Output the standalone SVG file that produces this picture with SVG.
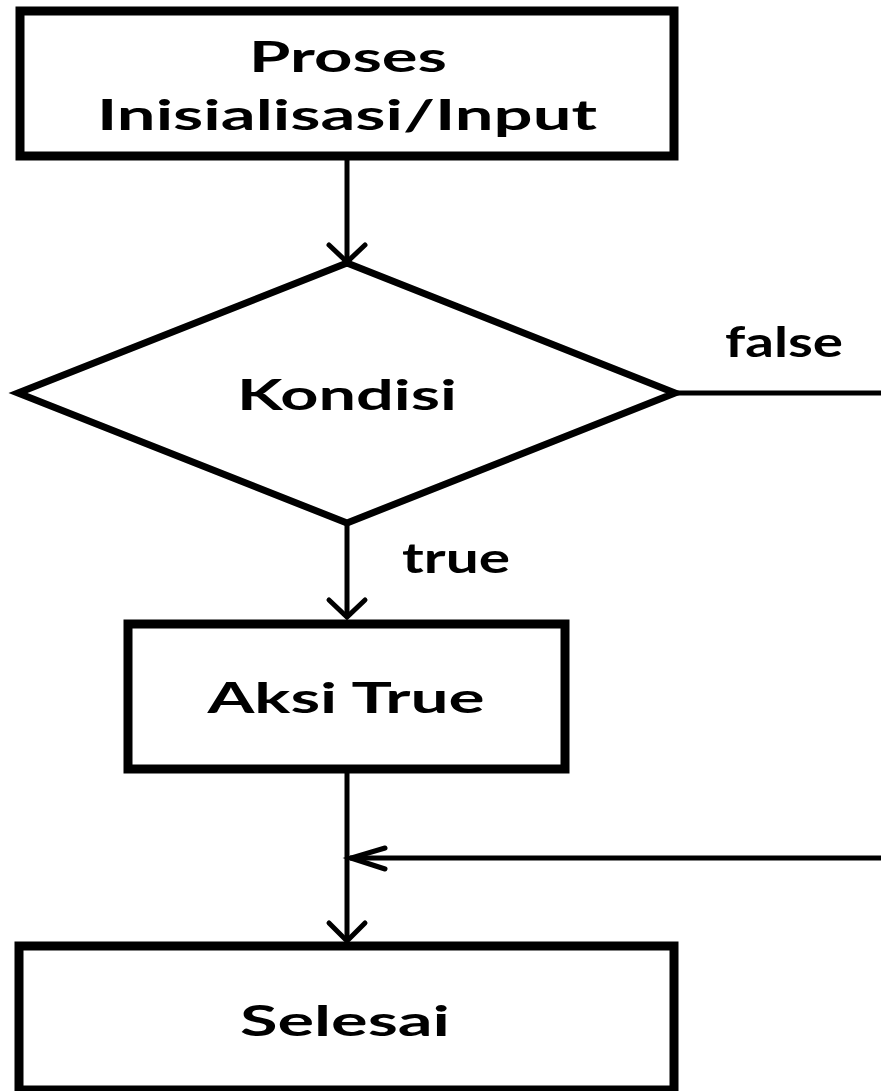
<svg xmlns="http://www.w3.org/2000/svg" width="881" height="1091" viewBox="0 0 881 1091">
<style>
.box{fill:#fff;stroke:#000;stroke-width:9;stroke-linejoin:miter}
.dia{fill:#fff;stroke:#000;stroke-width:7;stroke-linejoin:miter}
.ln{fill:none;stroke:#000;stroke-width:5}
.hd{fill:none;stroke:#000;stroke-width:5;stroke-linecap:round;stroke-linejoin:miter}
.t{font-family:Lato,"Open Sans","DejaVu Sans",sans-serif;font-weight:700;font-size:42px;fill:#000;text-anchor:middle}
</style>
<rect width="881" height="1091" fill="#fff"/>
<g id="connectors">
<line class="ln" x1="347" y1="156" x2="347" y2="261"/>
<polyline class="hd" points="329,245 347,262 365,245"/>
<line class="ln" x1="347" y1="523" x2="347" y2="617"/>
<polyline class="hd" points="329,600 347,617 365,600"/>
<line class="ln" x1="675" y1="393" x2="881" y2="393"/>
<line class="ln" x1="347" y1="769" x2="347" y2="941"/>
<polyline class="hd" points="329,923 347,941 365,923"/>
<line class="ln" x1="881" y1="858" x2="350" y2="858"/>
<polyline class="hd" points="385,848 351,858 385,869"/>
<text class="t" x="784" y="357" textLength="118" lengthAdjust="spacingAndGlyphs">false</text>
<text class="t" x="456" y="573" textLength="108" lengthAdjust="spacingAndGlyphs">true</text>
</g>
<g id="node-proses">
<rect class="box" x="20" y="11" width="654" height="145"/>
<text class="t" x="348" y="72" textLength="198" lengthAdjust="spacingAndGlyphs">Proses</text>
<text class="t" x="347" y="130" textLength="500" lengthAdjust="spacingAndGlyphs">Inisialisasi/Input</text>
</g>
<g id="node-kondisi">
<polygon class="dia" points="347,263 675,393 347,523 18,393"/>
<text class="t" x="347" y="410" textLength="220" lengthAdjust="spacingAndGlyphs">Kondisi</text>
</g>
<g id="node-aksi">
<rect class="box" x="128" y="624" width="437" height="145"/>
<text class="t" x="346" y="713" textLength="277" lengthAdjust="spacingAndGlyphs">Aksi True</text>
</g>
<g id="node-selesai">
<rect class="box" x="19" y="946" width="655" height="144"/>
<text class="t" x="345" y="1036" textLength="210" lengthAdjust="spacingAndGlyphs">Selesai</text>
</g>
</svg>
